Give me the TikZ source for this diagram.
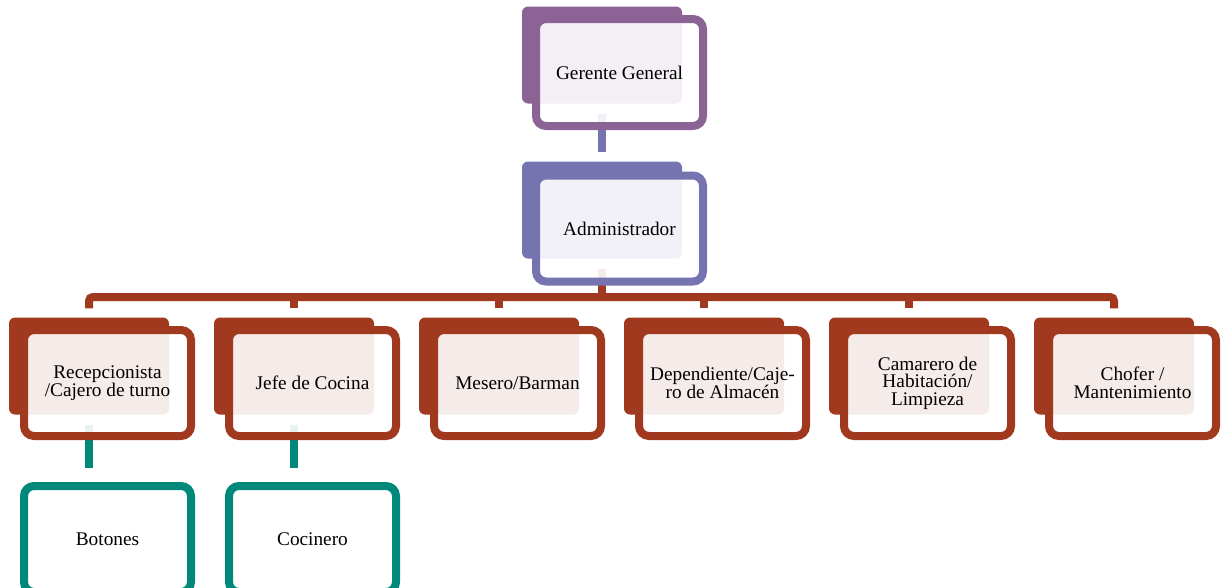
\documentclass[tikz,border=0pt]{standalone}
\usepackage{fontspec}
\setmainfont{Liberation Serif}
\definecolor{cgerente}{RGB}{139,99,149}
\definecolor{cadmin}{RGB}{117,116,176}
\definecolor{cdept}{RGB}{160,57,30}
\definecolor{cstaff}{RGB}{0,137,123}
\tikzset{
  backbox/.style={rectangle, rounded corners=6pt, minimum width=160pt,
    minimum height=97pt, inner sep=0pt},
  frontbox/.style={rectangle, rounded corners=10pt, line width=8pt,
    minimum width=167pt, minimum height=106pt, inner sep=2pt,
    fill=white, fill opacity=0.9, text opacity=1, align=center,
    font=\fontsize{19.3}{17.5}\selectfont},
  staffbox/.style={frontbox, fill opacity=1, draw=cstaff},
  link/.style={line width=8pt},
}
\begin{document}
\begin{tikzpicture}[x=1pt, y=-1pt]
\clip (0,0) rectangle (1222,587);
% shadow plates behind each position
\node[backbox, fill=cgerente] (gb) at (602,55) {};
\node[backbox, fill=cadmin] (ab) at (602,210) {};
\foreach \i in {1,...,6} {
  \node[backbox, fill=cdept] (d\i b) at ({89+205*(\i-1)},366) {};
}
% lower level staff
\node[staffbox] (t1) at (107.5,539) {Botones};
\node[staffbox] (t2) at (312.5,539) {Cocinero};
% connectors
\draw[link, draw=cadmin, shorten <=10pt, shorten >=9pt] (gb.south) -- (ab.north);
\coordinate (bus) at (0,297);
\draw[link, draw=cdept] ([yshift=-10pt]ab.south) -- (ab.south |- bus);
\draw[link, draw=cdept, rounded corners=4pt]
  ([yshift=9pt]d1b.north) -- (d1b.north |- bus) -- (d6b.north |- bus) -- ([yshift=9pt]d6b.north);
\foreach \i in {2,...,5} {
  \draw[link, draw=cdept] ([yshift=9pt]d\i b.north) -- (d\i b.north |- bus);
}
\draw[link, draw=cstaff] ([yshift=-10pt]d1b.south) -- ([yshift=14pt]d1b.south |- t1.north);
\draw[link, draw=cstaff] ([yshift=-10pt]d2b.south) -- ([yshift=14pt]d2b.south |- t2.north);
% framed position boxes
\node[frontbox, draw=cgerente, minimum height=107pt] (g) at (619.5,72.5) {Gerente General};
\node[frontbox, draw=cadmin] (a) at (619.5,228.5) {Administrador};
\node[frontbox, draw=cdept] (d1) at (107.5,383) {Recepcionista\\/Cajero de turno};
\node[frontbox, draw=cdept] (d2) at (312.5,383) {Jefe de Cocina};
\node[frontbox, draw=cdept] (d3) at (517.5,383) {Mesero/Barman};
\node[frontbox, draw=cdept] (d4) at (722.5,383) {Dependiente/Caje-\\ro de Almacén};
\node[frontbox, draw=cdept] (d5) at (927.5,383) {Camarero de\\Habitación/\\Limpieza};
\node[frontbox, draw=cdept] (d6) at (1132.5,383) {Chofer /\\Mantenimiento};
\end{tikzpicture}
\end{document}
